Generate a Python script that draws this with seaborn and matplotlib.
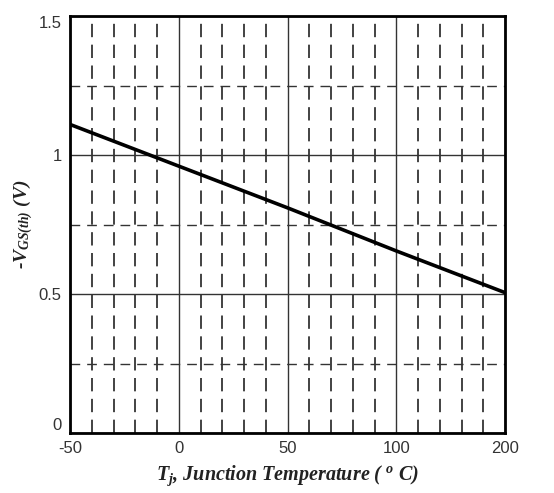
import matplotlib
matplotlib.use("Agg")
import matplotlib.pyplot as plt
import seaborn as sns
import pandas as pd
from matplotlib.ticker import MultipleLocator, FixedLocator

# Data
temperature = [-50, 0, 50, 100, 150]
vgs_th = [1.11, 0.96, 0.81, 0.655, 0.505]
x_tick_pos = [-50, 0, 50, 100, 150]
x_tick_labels = ["-50", "0", "50", "100", "200"]
y_ticks = [0, 0.5, 1, 1.5]
y_tick_labels = ["0", "0.5", "1", "1.5"]

sns.set_style("white")
plt.rcParams["font.family"] = ["Liberation Sans", "DejaVu Sans"]
plt.rcParams["mathtext.fontset"] = "custom"
plt.rcParams["mathtext.it"] = "Liberation Serif:bold:italic"
plt.rcParams["mathtext.rm"] = "Liberation Serif:bold:italic"
plt.rcParams["mathtext.bf"] = "Liberation Serif:bold:italic"

fig = plt.figure(figsize=(5.54, 4.93), dpi=100)
ax = fig.add_axes([0.1264, 0.1217, 0.7852, 0.8458])

df = pd.DataFrame({"T": temperature, "V": vgs_th})
sns.lineplot(data=df, x="T", y="V", ax=ax, color="black", linewidth=2.6, zorder=5)

ax.set_xlim(-50, 150)
ax.set_ylim(0, 1.5)
ax.xaxis.set_major_locator(FixedLocator(x_tick_pos))
ax.set_xticklabels(x_tick_labels)
ax.yaxis.set_major_locator(FixedLocator(y_ticks))
ax.set_yticklabels(y_tick_labels)
ax.xaxis.set_minor_locator(MultipleLocator(10))
ax.yaxis.set_minor_locator(MultipleLocator(0.25))

ax.grid(which="major", color="#333333", linestyle="-", linewidth=1.0)
ax.grid(which="minor", axis="x", color="#222222", linestyle=(0, (8, 4.5)), linewidth=1.2)
ax.grid(which="minor", axis="y", color="#333333", linestyle=(0, (7, 5)), linewidth=1.0)

# lighter gray for some minor lines, as in the scan
xshades = {-20: "#999999", 20: "#999999", 60: "#999999", 120: "#888888", 130: "#888888", 140: "#aaaaaa"}
for tick in ax.xaxis.get_minor_ticks():
    v = round(tick.get_loc())
    if v in xshades:
        tick.gridline.set_color(xshades[v])
for tick in ax.yaxis.get_minor_ticks():
    v = round(tick.get_loc(), 2)
    if abs(v - 0.25) < 1e-6:
        tick.gridline.set_color("#999999")

ax.tick_params(which="both", length=0, labelsize=12, labelcolor="#333333")
ax.tick_params(axis="y", pad=6)
ax.tick_params(axis="x", pad=6)

ylabels = ax.get_yticklabels()
ylabels[0].set_verticalalignment("bottom")
ylabels[-1].set_verticalalignment("top")

for s in ax.spines.values():
    s.set_visible(True)
    s.set_color("black")
    s.set_linewidth(2.0)

serif = ["Liberation Serif", "DejaVu Serif"]
ax.set_xlabel(r"$T_{j}$, Junction Temperature ( $^{o}$ C)",
              fontsize=14.5, fontweight="bold", fontstyle="italic", family=serif,
              color="#222222", labelpad=5)
ax.set_ylabel(r"-$V_{GS(th)}$ (V)",
              fontsize=14, fontweight="bold", fontstyle="italic", family=serif,
              color="#222222", labelpad=3)

fig.savefig("out.png", dpi=100)
